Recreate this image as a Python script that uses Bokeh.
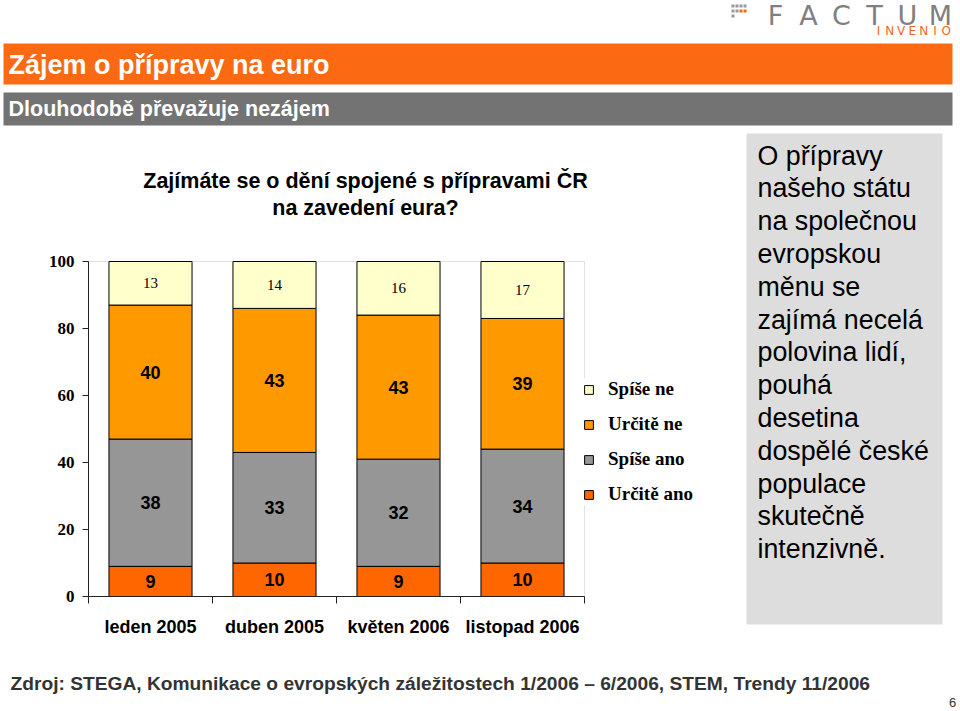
from bokeh.plotting import figure
from bokeh.models import (ColumnDataSource, FixedTicker, Legend, LegendItem, Label,
                          BoxAnnotation, Range1d)
from bokeh.core.properties import value
from bokeh.embed import file_html
from bokeh.resources import INLINE

# ---------------- data ----------------
categories = ["leden 2005", "duben 2005", "květen 2006", "listopad 2006"]
urcite_ano = [9, 10, 9, 10]
spise_ano = [38, 33, 32, 34]
urcite_ne = [40, 43, 43, 39]
spise_ne = [13, 14, 16, 17]
series_names = ["Určitě ano", "Spíše ano", "Určitě ne", "Spíše ne"]
series_colors = ["#FF6600", "#969696", "#FF9900", "#FFFFCC"]
y_ticks = [0, 20, 40, 60, 80, 100]

title_text = "Zájem o přípravy na euro"
subtitle_text = "Dlouhodobě převažuje nezájem"
chart_title = ["Zajímáte se o dění spojené s přípravami ČR", "na zavedení eura?"]
note_lines = ["O přípravy", "našeho státu", "na společnou", "evropskou", "měnu se",
              "zajímá necelá", "polovina lidí,", "pouhá", "desetina", "dospělé české",
              "populace", "skutečně", "intenzivně."]
source_text = "Zdroj: STEGA, Komunikace o evropských záležitostech 1/2006 – 6/2006, STEM, Trendy 11/2006"
page_number = "6"

SANS = "Liberation Sans"
SERIF = "Liberation Serif"

# ---------------- canvas / plot geometry (pixels) ----------------
W, H = 958, 709
PLOT_L, PLOT_R, PLOT_T, PLOT_B = 88, 584, 261, 596     # plot area on the page
n_cat = len(categories)
px_per_x = (PLOT_R - PLOT_L) / n_cat
px_per_y = (PLOT_B - PLOT_T) / 100.0

x_range = Range1d(-PLOT_L / px_per_x, (W - PLOT_L) / px_per_x)
y_range = Range1d(-(H - PLOT_B) / px_per_y, PLOT_B / px_per_y)

p = figure(width=W, height=H, x_range=x_range, y_range=y_range, min_border=0,
           output_backend="svg", toolbar_location=None)
p.background_fill_color = "white"
p.border_fill_color = "white"
p.outline_line_color = None
p.xgrid.visible = False
p.ygrid.visible = False


def box(x1, y1, x2, y2, color, level="underlay"):
    p.add_layout(BoxAnnotation(left=x1, right=x2, top=H - y1, bottom=H - y2,
                               left_units="screen", right_units="screen",
                               top_units="screen", bottom_units="screen",
                               fill_color=color, fill_alpha=1, line_color=None, level=level))


def label(text, x, y, size, font=SANS, style="normal", color="black", align="left"):
    p.add_layout(Label(x=x, y=H - y, x_units="screen", y_units="screen", text=text,
                       text_font=font, text_font_size=f"{size}px", text_font_style=style,
                       text_color=color, text_align=align, text_baseline="middle"))


# ---- header ----
box(3, 43, 952, 84, "#FB6A13")
box(3, 92, 952, 125, "#737373")
label(title_text, 8, 64, 27, style="bold", color="white")
label(subtitle_text, 8, 108, 21.5, style="bold", color="white")
for (dx, dy, col) in [(731, 4, "#999999"), (735, 4, "#999999"), (739, 4, "#999999"), (743, 4, "#999999"),
                      (731, 9, "#999999"), (735, 9, "#999999"), (739, 9, "#F26522"), (743, 9, "#F26522"),
                      (731, 14, "#999999")]:
    box(dx, dy, dx + 3, dy + 3, col)
for i, ch in enumerate("FACTUM"):
    label(ch, 775 + i * 33, 15, 27, font="DejaVu Sans", color="#808080", align="center")
for i, ch in enumerate("INVENIO"):
    label(ch, 878 + i * 11.3, 30, 12, font="DejaVu Sans", color="#F26522", align="center")

# ---- chart title ----
label(chart_title[0], 365, 180, 21.5, style="bold", align="center")
label(chart_title[1], 365, 207, 21.5, style="bold", align="center")

# ---- note box ----
box(746, 133, 942, 624, "#DDDDDD")
for i, line in enumerate(note_lines):
    label(line, 757, 155 + i * 32.8, 26.8)

# ---- footer ----
label(source_text, 10, 683, 19.2, style="bold", color="#333333")
label(page_number, 952, 702, 13, color="#333333", align="center")

# ---------------- bars ----------------
x_pos = [i + 0.5 for i in range(n_cat)]
keys = ["ua", "sa", "un", "sn"]
src = ColumnDataSource(dict(x=x_pos, ua=urcite_ano, sa=spise_ano, un=urcite_ne, sn=spise_ne))

# plot-area border (grey, top and right visible)
p.add_layout(BoxAnnotation(left=0, right=n_cat, bottom=0, top=100, fill_color=None,
                           line_color="#A0A0A0", line_width=1, level="underlay"))

renderers = p.vbar_stack(keys, x="x", width=0.67, color=series_colors,
                         line_color="black", line_width=1, source=src)

vals = [urcite_ano, spise_ano, urcite_ne, spise_ne]
lx, ly, lt = [], [], []
tx, ty, tt = [], [], []
for i in range(n_cat):
    base = 0
    for s, series in enumerate(vals):
        v = series[i]
        c = base + v / 2
        if s < 3:
            lx.append(x_pos[i]); ly.append(c); lt.append(str(v))
        else:
            tx.append(x_pos[i]); ty.append(c); tt.append(str(v))
        base += v
p.text(x=lx, y=ly, text=lt, text_font=value(SANS), text_font_style="bold",
       text_font_size="18px", text_align="center", text_baseline="middle", text_color="black")
p.text(x=tx, y=ty, text=tt, text_font=value(SERIF),
       text_font_size="15px", text_align="center", text_baseline="middle", text_color="black")

# ---------------- axes (drawn at the plot-area edges) ----------------
p.yaxis.fixed_location = 0
p.yaxis.bounds = (0, 100)
p.yaxis.ticker = FixedTicker(ticks=y_ticks, minor_ticks=[])
p.yaxis.major_label_text_font = SERIF
p.yaxis.major_label_text_font_style = "bold"
p.yaxis.major_label_text_font_size = "17px"
p.yaxis.major_label_text_color = "black"
p.yaxis.major_tick_out = 6
p.yaxis.major_tick_in = 0
p.yaxis.major_label_standoff = 8
p.yaxis.axis_line_color = "#222222"
p.yaxis.major_tick_line_color = "#222222"

p.xaxis.fixed_location = 0
p.xaxis.bounds = (0, n_cat)
p.xaxis.ticker = FixedTicker(ticks=x_pos, minor_ticks=list(range(n_cat + 1)))
p.xaxis.major_label_overrides = {x: c for x, c in zip(x_pos, categories)}
p.xaxis.major_tick_out = 0
p.xaxis.major_tick_in = 0
p.xaxis.minor_tick_out = 7
p.xaxis.minor_tick_in = 0
p.xaxis.minor_tick_line_color = "#222222"
p.xaxis.axis_line_color = "#222222"
p.xaxis.major_label_text_font = SANS
p.xaxis.major_label_text_font_style = "bold"
p.xaxis.major_label_text_font_size = "18px"
p.xaxis.major_label_text_color = "black"
p.xaxis.major_label_standoff = 13

# ---------------- legend ----------------
order = [3, 2, 1, 0]
legend = Legend(items=[LegendItem(label=series_names[k], renderers=[renderers[k]]) for k in order],
                location=(583, H - 505), glyph_width=11, glyph_height=11, label_standoff=14,
                spacing=13, label_height=20, padding=8, margin=0,
                border_line_color=None, background_fill_color="white", background_fill_alpha=1,
                label_text_font=SERIF, label_text_font_style="bold", label_text_font_size="19px",
                label_text_color="black")
p.add_layout(legend)

open("out.html", "w").write(file_html(p, INLINE))
